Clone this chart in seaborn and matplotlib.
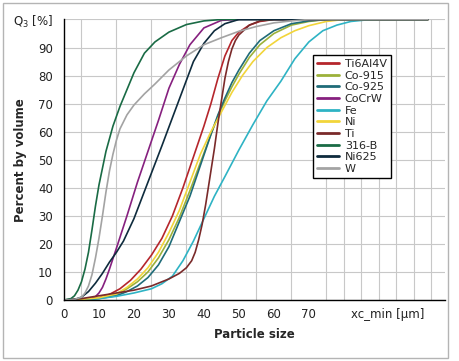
import numpy as np
import pandas as pd
import matplotlib
matplotlib.use("Agg")
import matplotlib.pyplot as plt
from matplotlib.patches import Rectangle
from matplotlib.ticker import MultipleLocator
import seaborn as sns

# Cumulative particle size distributions Q3
names = ["Ti6Al4V", "Co-915", "Co-925", "CoCrW", "Fe", "Ni", "Ti", "316-B", "Ni625", "W"]
colors = ["#b5262c", "#9cb13a", "#1f6b78", "#86207f", "#2eb3c4",
          "#f2d53a", "#7a2a2a", "#1a6b45", "#0e2b3d", "#a3a3a3"]

ti6al4v_x = [0, 5, 10, 13, 16, 19, 22, 25, 28, 31, 34, 37, 40, 42, 44, 46, 48, 50, 53, 56, 60, 104]
ti6al4v_y = [0, 0.2, 0.8, 2, 4, 7, 11, 16, 22, 30, 40, 51, 62, 70, 79, 87, 92.5, 95.5, 98, 99.3, 100, 100]

co915_x = [0, 5, 10, 15, 18, 21, 24, 27, 30, 33, 36, 39, 42, 44, 46, 48, 50, 53, 56, 60, 65, 70, 75, 104]
co915_y = [0, 0.2, 0.7, 2, 4, 6.5, 10, 15, 21.5, 29.5, 39, 49, 59, 65.5, 71, 76, 80.5, 86.5, 91, 95, 98, 99.3, 100, 100]

co925_x = [0, 5, 10, 15, 18, 21, 24, 27, 30, 33, 36, 39, 42, 44, 46, 48, 50, 53, 56, 60, 65, 70, 75, 104]
co925_y = [0, 0.1, 0.5, 1.5, 3, 5, 8, 12.5, 19, 28, 37, 48, 59, 66, 72, 77.5, 82, 88, 92.5, 96, 98.5, 99.5, 100, 100]

cocrw_x = [0, 5, 8, 9, 10, 11, 12, 13, 15, 18, 21, 24, 27, 30, 33, 36, 40, 45, 50, 104]
cocrw_y = [0, 0.1, 0.5, 1.2, 2.5, 4.5, 7.5, 11, 18.5, 30, 42, 53, 64, 75.5, 84, 91, 97, 99.7, 100, 100]

fe_x = [0, 5, 10, 15, 20, 25, 28, 31, 34, 37, 40, 43, 46, 50, 54, 58, 62, 66, 70, 74, 78, 82, 86, 90, 104]
fe_y = [0, 0.1, 0.5, 1.3, 2.5, 4, 5.8, 8.5, 14, 21, 29, 37, 44, 53.5, 62.5, 71, 78, 86, 92, 96, 98, 99.3, 99.8, 100, 100]

ni_x = [0, 5, 10, 15, 18, 21, 24, 27, 30, 33, 36, 39, 42, 45, 48, 51, 54, 58, 62, 66, 70, 75, 80, 104]
ni_y = [0, 0.2, 0.8, 2.2, 4.5, 7.5, 11.5, 17, 24, 32, 42, 52, 60, 67, 74, 80, 85, 90, 93.5, 96, 97.8, 99.3, 100, 100]

ti_x = [0, 5, 10, 15, 20, 25, 30, 33, 35, 36.5, 37.5, 38.5, 39.5, 40.5, 41, 42, 43, 44, 45, 46, 47, 48, 49, 50, 53, 56, 60, 104]
ti_y = [0, 0.5, 1.5, 2.5, 3.5, 5, 7.5, 9.5, 11.5, 14, 17, 21.5, 27, 34, 38, 46, 54, 63, 71, 79, 85, 89.5, 92.5, 94.5, 98, 99.5, 100, 100]

b316_x = [0, 2, 3, 4, 5, 6, 7, 8, 9, 10, 12, 14, 16, 18, 20, 23, 26, 30, 35, 40, 45, 104]
b316_y = [0, 0.5, 1.5, 3.5, 6.5, 11, 17, 25, 33.5, 41, 53, 62, 69, 75, 81, 88, 92, 95.5, 98.2, 99.5, 100, 100]

ni625_x = [0, 3, 5, 7, 9, 11, 13, 15, 17, 20, 24, 28, 31, 34, 37, 40, 43, 46, 50, 104]
ni625_y = [0, 0.2, 1, 3, 6, 9.5, 13.5, 17, 21, 29, 42, 55, 65, 75, 85, 91.5, 96, 98.5, 100, 100]

w_x = [0, 3, 5, 6, 7, 8, 9, 10, 11, 12, 13, 14, 15, 16, 18, 20, 23, 26, 30, 35, 40, 45, 50, 55, 60, 65, 70, 104]
w_y = [0, 0.2, 1, 2.5, 5, 9, 15, 22, 30, 38.5, 46, 52, 57, 61, 66, 69.5, 73.5, 77, 82, 87, 91, 93.5, 95.8, 97.5, 98.8, 99.5, 100, 100]

xs = [ti6al4v_x, co915_x, co925_x, cocrw_x, fe_x, ni_x, ti_x, b316_x, ni625_x, w_x]
ys = [ti6al4v_y, co915_y, co925_y, cocrw_y, fe_y, ni_y, ti_y, b316_y, ni625_y, w_y]

x_ticks = [0, 10, 20, 30, 40, 50, 60, 70, 92.5]
x_labels = ["0", "10", "20", "30", "40", "50", "60", "70", "xc_min [µm]"]
y_ticks = [0, 10, 20, 30, 40, 50, 60, 70, 80, 90, 100]
y_labels = ["0", "10", "20", "30", "40", "50", "60", "70", "80", "90", "Q$_3$ [%]"]

frames = []
for n, x, y in zip(names, xs, ys):
    frames.append(pd.DataFrame({"size": x, "q3": y, "material": n}))
df = pd.concat(frames, ignore_index=True)

sns.set_theme(style="white")
plt.rcParams["font.family"] = ["DejaVu Sans"]

fig = plt.figure(figsize=(4.59, 3.61), dpi=100)
ax = fig.add_axes([0.1394, 0.169, 0.830, 0.777])

sns.lineplot(data=df, x="size", y="q3", hue="material", hue_order=names,
             palette=dict(zip(names, colors)), estimator=None, sort=True,
             linewidth=1.2, ax=ax)

ax.set_xlim(0, 108.9)
ax.set_ylim(0, 100)

ax.xaxis.set_minor_locator(MultipleLocator(5))
ax.grid(False)
ax.grid(which="minor", axis="x", color="#c8c8c8", linewidth=0.8)
ax.grid(which="major", axis="y", color="#c8c8c8", linewidth=0.8)
ax.set_axisbelow(True)

ax.set_xticks(x_ticks)
ax.set_xticklabels(x_labels)
ax.set_yticks(y_ticks)
ax.set_yticklabels(y_labels)
ax.tick_params(axis="both", which="both", length=0, labelsize=8.5, colors="#222222")
ax.tick_params(axis="y", pad=8)
ax.tick_params(axis="x", pad=6)

for side in ["top", "right"]:
    ax.spines[side].set_visible(False)
for side in ["left", "bottom"]:
    ax.spines[side].set_color("black")
    ax.spines[side].set_linewidth(1.0)

ax.set_xlabel("Particle size", fontsize=8.5, fontweight="bold", labelpad=5)
ax.set_ylabel("Percent by volume", fontsize=8.5, fontweight="bold")
ax.yaxis.set_label_coords(-0.097, 0.5)

leg = ax.legend(loc="upper left", bbox_to_anchor=(0.654, 0.873), fontsize=8,
                frameon=True, fancybox=False, edgecolor="black", framealpha=1,
                borderpad=0.35, labelspacing=0.15, handlelength=2.0,
                handletextpad=0.5, borderaxespad=0)
leg.get_frame().set_linewidth(1.0)
for line in leg.get_lines():
    line.set_linewidth(2.0)

fig.patches.append(Rectangle((3 / 459, 3 / 361), 445 / 459, 355 / 361,
                             transform=fig.transFigure, fill=False,
                             edgecolor="#b4b4b4", linewidth=1.0))

fig.savefig("out.png", dpi=100)
